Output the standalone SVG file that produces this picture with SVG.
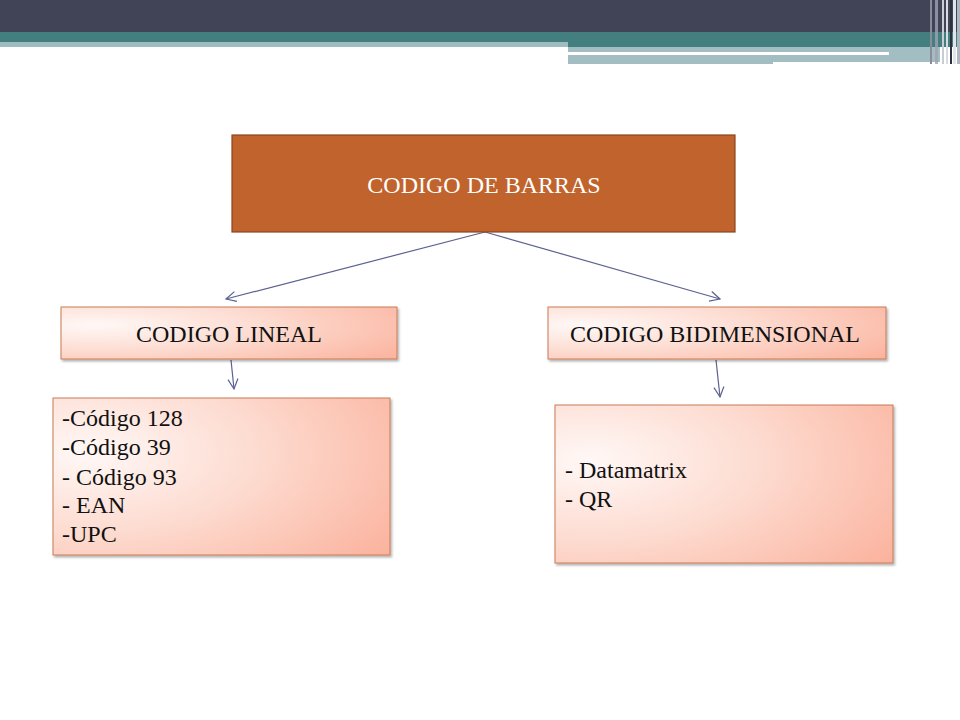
<svg xmlns="http://www.w3.org/2000/svg" width="960" height="720" viewBox="0 0 960 720">
<style>
  text { font-family: "Liberation Serif", "Times New Roman", serif; font-size: 24px; }
  .lbl { fill: #111; }
  .conn { stroke: #5C6190; stroke-width: 1.2; fill: none; marker-end: url(#arr); }
  .light { fill: url(#pink); stroke: #C87A55; stroke-width: 1; filter: url(#sh); }
</style>
<defs>
  <marker id="arr" viewBox="0 0 12 12" refX="11" refY="6" markerWidth="12" markerHeight="12" markerUnits="userSpaceOnUse" orient="auto">
    <path d="M1,1 L11,6 L1,11" fill="none" stroke="#5C6190" stroke-width="1.2"/>
  </marker>
  <radialGradient id="pink" cx="0.1" cy="0.35" r="1.1" fx="0.1" fy="0.35">
    <stop offset="0" stop-color="#FFF8F6"/>
    <stop offset="0.45" stop-color="#FDDCD1"/>
    <stop offset="1" stop-color="#FBB29D"/>
  </radialGradient>
  <filter id="sh" x="-5%" y="-10%" width="115%" height="130%">
    <feDropShadow dx="1.5" dy="2" stdDeviation="1.2" flood-color="#000" flood-opacity="0.3"/>
  </filter>
</defs>

<g id="header">
  <rect x="0" y="0" width="960" height="32" fill="#414356"/>
  <rect x="0" y="32" width="960" height="15" fill="#447F80"/>
  <rect x="0" y="42" width="568" height="5" fill="#9FBCC0"/>
  <rect x="568" y="47" width="372" height="15" fill="#A2BEC3"/>
  <rect x="568" y="52" width="321" height="3" fill="#FFFFFF"/>
  <rect x="568" y="55" width="205" height="9" fill="#A2BEC3"/>
  <rect x="930" y="0" width="2" height="64" fill="#8A8C9C"/>
  <rect x="935" y="0" width="3" height="64" fill="#9FA2B0" opacity="0.8"/>
  <rect x="942" y="0" width="2" height="64" fill="#C8CCD4"/>
  <rect x="946" y="0" width="2" height="64" fill="#D8DCE2"/>
  <rect x="950" y="0" width="2" height="64" fill="#2E3040"/>
  <rect x="953" y="0" width="3" height="64" fill="#E2E6EA"/>
  <rect x="957" y="0" width="3" height="64" fill="#B0B6C0"/>
</g>

<g id="connectors">
  <line class="conn" x1="485" y1="232" x2="226" y2="299"/>
  <line class="conn" x1="485" y1="232" x2="720" y2="299"/>
  <line class="conn" x1="231" y1="360" x2="234" y2="389"/>
  <line class="conn" x1="716" y1="360" x2="720" y2="397"/>
</g>

<g id="codigo-de-barras">
  <rect x="232" y="135" width="503" height="97" fill="#C1632C" stroke="#8C4520" stroke-width="1.2"/>
  <text x="484" y="193" text-anchor="middle" fill="#FFFFFF" font-family="Liberation Serif, serif">CODIGO DE BARRAS</text>
</g>

<g id="codigo-lineal">
  <rect class="light" x="61" y="307" width="336" height="52"/>
  <text class="lbl" x="229" y="342" text-anchor="middle" font-family="Liberation Serif, serif">CODIGO LINEAL</text>
</g>

<g id="codigo-bidimensional">
  <rect class="light" x="548" y="307" width="338" height="52"/>
  <text class="lbl" x="715" y="342" text-anchor="middle" font-family="Liberation Serif, serif">CODIGO BIDIMENSIONAL</text>
</g>

<g id="lista-lineal">
  <rect class="light" x="53" y="398" width="337" height="157"/>
  <text class="lbl" font-family="Liberation Serif, serif">
    <tspan x="62" y="426">-Código 128</tspan>
    <tspan x="62" y="455">-Código 39</tspan>
    <tspan x="62" y="485">- Código 93</tspan>
    <tspan x="62" y="513">- EAN</tspan>
    <tspan x="62" y="542">-UPC</tspan>
  </text>
</g>

<g id="lista-bidimensional">
  <rect class="light" x="555" y="405" width="338" height="158"/>
  <text class="lbl" font-family="Liberation Serif, serif">
    <tspan x="565" y="478">- Datamatrix</tspan>
    <tspan x="565" y="507">- QR</tspan>
  </text>
</g>
</svg>
